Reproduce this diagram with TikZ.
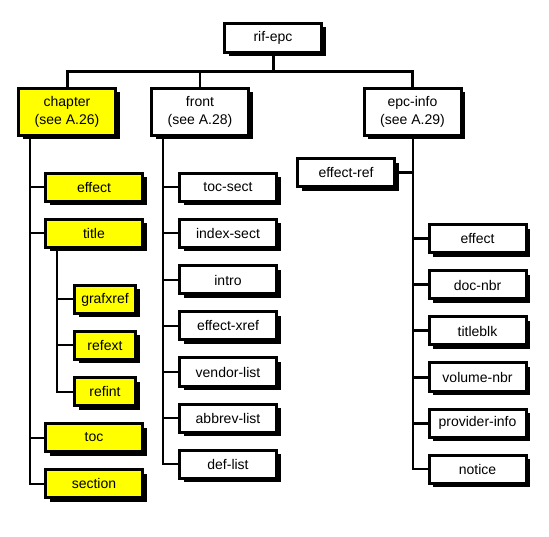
\documentclass[tikz,border=0pt]{standalone}
\usepackage{fontspec}
\setmainfont{Liberation Sans}
\usetikzlibrary{shadows}
\definecolor{hl}{RGB}{255,255,0}
\begin{document}
\begin{tikzpicture}[x=1pt,y=1pt,
  box/.style={draw, line width=3pt, fill=white, inner sep=0pt, outer sep=0pt,
    minimum width=97pt, minimum height=28pt, align=center,
    font=\fontsize{14}{18}\selectfont,
    general shadow={shadow xshift=4pt, shadow yshift=-4pt, fill=black}},
  big/.style={minimum height=47pt},
  small/.style={minimum width=61pt},
  yel/.style={fill=hl},
  conn/.style={line width=2pt},
  busline/.style={line width=3pt}]
\useasboundingbox (0,0) rectangle (549,-537);
% level 0 and 1
\node[box, minimum height=29pt] (root) at (273,-38) {rif-epc};
\node[box, big, yel] (chapter) at (67,-112) {chapter\\(see A.26)};
\node[box, big] (front) at (200,-112) {front\\(see A.28)};
\node[box, big] (epcinfo) at (412.5,-112) {epc-info\\(see A.29)};
% chapter children
\node[box, yel] (ceffect) at (94,-187.5) {effect};
\node[box, yel] (title) at (94,-233.5) {title};
\node[box, small, yel] (grafxref) at (105,-299.5) {grafxref};
\node[box, small, yel] (refext) at (105,-345.5) {refext};
\node[box, small, yel] (refint) at (105,-391.5) {refint};
\node[box, yel] (toc) at (94,-437.5) {toc};
\node[box, yel] (section) at (94,-483.5) {section};
% front children
\node[box] (tocsect) at (228,-187.5) {toc-sect};
\node[box] (indexsect) at (228,-233.5) {index-sect};
\node[box] (intro) at (228,-280) {intro};
\node[box] (effectxref) at (228,-326) {effect-xref};
\node[box] (vendorlist) at (228,-372) {vendor-list};
\node[box] (abbrevlist) at (228,-418) {abbrev-list};
\node[box] (deflist) at (228,-464) {def-list};
% epc-info children
\node[box] (effectref) at (346,-173) {effect-ref};
\node[box] (eeffect) at (477.5,-239) {effect};
\node[box] (docnbr) at (477.5,-285) {doc-nbr};
\node[box] (titleblk) at (477.5,-331) {titleblk};
\node[box] (volumenbr) at (477.5,-377) {volume-nbr};
\node[box] (providerinfo) at (477.5,-423) {provider-info};
\node[box] (notice) at (477.5,-469) {notice};
% connectors
\coordinate (bus) at (273,-72);
\draw[busline] (root.south) -- (bus);
\draw[busline] (chapter.north) |- (bus) -| (epcinfo.north);
\draw[conn] (front.north) -- (front.north |- bus);
% chapter trunk
\coordinate (ct) at (30,-137);
\draw[conn] (ct) |- (section.west);
\foreach \n in {ceffect,title,toc}
  \draw[conn] (\n.west) -- (\n.west -| ct);
% title trunk
\coordinate (tt) at (57,-249);
\draw[conn] (tt) |- (refint.west);
\foreach \n in {grafxref,refext}
  \draw[conn] (\n.west) -- (\n.west -| tt);
% front trunk
\coordinate (ft) at (163,-137);
\draw[conn] (ft) |- (deflist.west);
\foreach \n in {tocsect,indexsect,intro,effectxref,vendorlist,abbrevlist}
  \draw[conn] (\n.west) -- (\n.west -| ft);
% epc-info trunk
\draw[conn] (epcinfo.south) |- (notice.west);
\draw[busline] (effectref.east) -- (effectref.east -| epcinfo.south);
\foreach \n in {eeffect,docnbr,titleblk,volumenbr,providerinfo}
  \draw[busline] (\n.west) -- (\n.west -| epcinfo.south);
\end{tikzpicture}
\end{document}
